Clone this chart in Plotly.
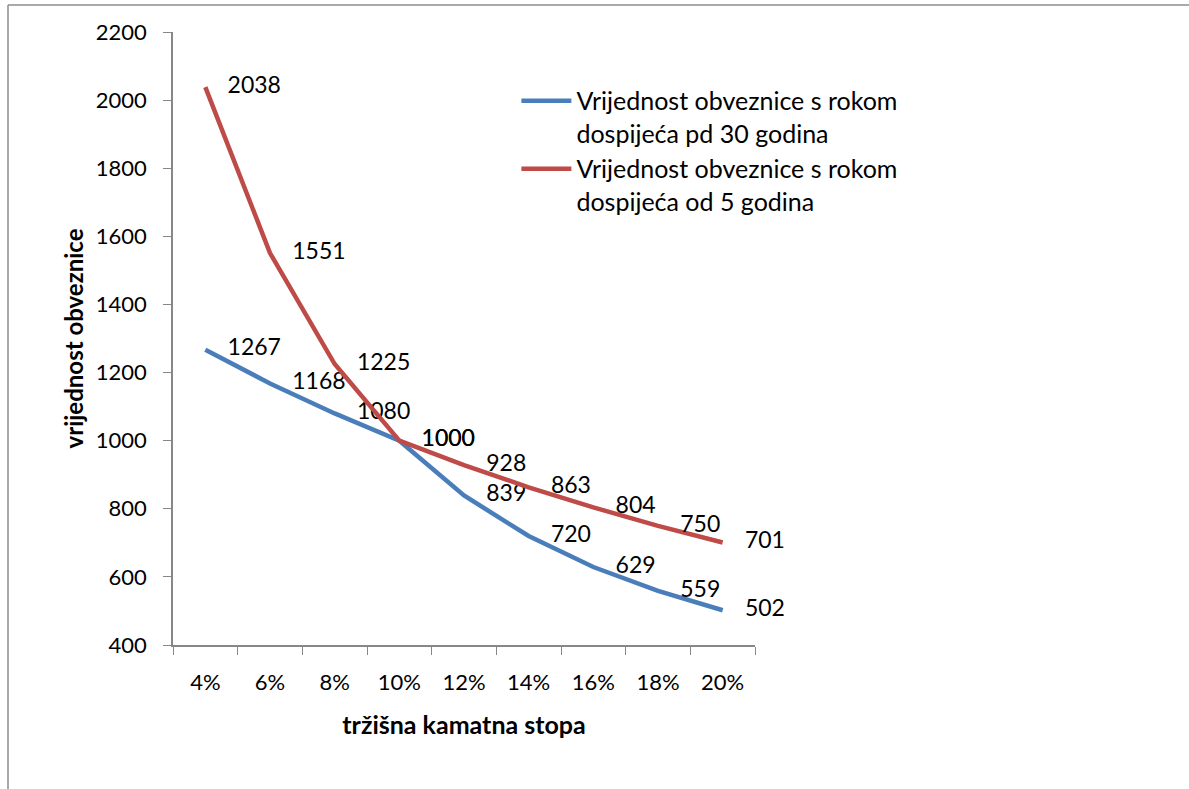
import plotly.graph_objects as go

rates = ["4%", "6%", "8%", "10%", "12%", "14%", "16%", "18%", "20%"]
value_30y = [1267, 1168, 1080, 1000, 839, 720, 629, 559, 502]
value_5y = [2038, 1551, 1225, 1000, 928, 863, 804, 750, 701]
name_30y = "Vrijednost obveznice s rokom<br>dospijeća pd 30 godina"
name_5y = "Vrijednost obveznice s rokom<br>dospijeća od 5 godina"

FONT = "Lato, 'Open Sans', sans-serif"
AXIS_COLOR = "#878787"


def series(x, y, name, color):
    return go.Scatter(
        x=x, y=y, name=name, mode="lines+markers+text",
        line=dict(color=color, width=4.5),
        marker=dict(size=34, color="rgba(0,0,0,0)", line=dict(width=0)),
        text=[str(v) for v in y], textposition="middle right",
        textfont=dict(family=FONT, size=23, color="#000000"),
        cliponaxis=False,
    )


fig = go.Figure()
fig.add_trace(series(rates, value_30y, name_30y, "#4A7EBB"))
fig.add_trace(series(rates, value_5y, name_5y, "#BE4B48"))

fig.update_layout(
    width=1189, height=789,
    margin=dict(l=173, r=434, t=32, b=144),
    paper_bgcolor="white", plot_bgcolor="white",
    font=dict(family=FONT, size=22, color="#000000"),
    showlegend=True,
    legend=dict(
        x=0.59, y=0.925, xanchor="left", yanchor="top",
        font=dict(family=FONT, size=25), valign="top",
        itemwidth=50, tracegroupgap=0,
        bgcolor="rgba(0,0,0,0)",
    ),
    xaxis=dict(
        type="category", range=[-0.5, len(rates) - 0.5], autorange=False,
        tickson="boundaries", ticks="outside", ticklen=8,
        tickcolor=AXIS_COLOR, showline=True, linecolor=AXIS_COLOR, linewidth=1.5,
        showgrid=False, zeroline=False, ticklabelstandoff=17,
        tickfont=dict(family=FONT, size=22),
        title=dict(text="<b>tržišna kamatna stopa</b>", standoff=22,
                   font=dict(family=FONT, size=25)),
    ),
    yaxis=dict(
        range=[400, 2200], autorange=False, dtick=200, ticks="outside", ticklen=8,
        tickcolor=AXIS_COLOR, showline=True, linecolor=AXIS_COLOR, linewidth=1.5,
        showgrid=False, zeroline=False, ticklabelstandoff=12,
        tickfont=dict(family=FONT, size=22),
        title=dict(text="<b>vrijednost obveznice</b>", standoff=5,
                   font=dict(family=FONT, size=24)),
    ),
    shapes=[
        dict(type="line", xref="paper", yref="paper", x0=-0.2835, x1=2.0,
             y0=1.044, y1=1.044, line=dict(color="#8C8C8C", width=1.5)),
        dict(type="line", xref="paper", yref="paper", x0=-0.2835, x1=-0.2835,
             y0=1.044, y1=-0.5, line=dict(color="#8C8C8C", width=1.5)),
    ],
)

fig.write_html(
    "out.html",
    config={"displayModeBar": False},
    post_script="document.body.style.margin='0px';document.body.style.overflow='hidden';",
)
